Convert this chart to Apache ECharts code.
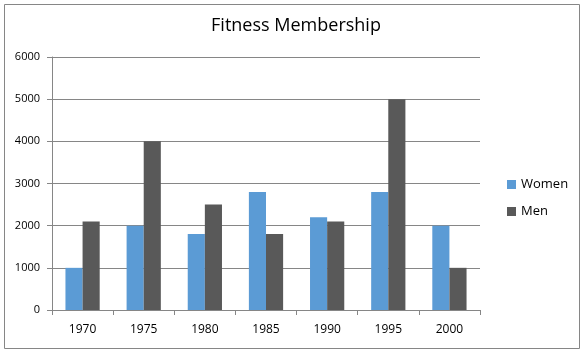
<!DOCTYPE html>
<html><head><meta charset="utf-8">
<script src="https://cdn.jsdelivr.net/npm/echarts@6/dist/echarts.min.js"></script>
<style>html,body{margin:0;padding:0;background:#fff}#c{width:586px;height:355px}</style>
</head><body><div id="c"></div>
<script>
const categories = ['1970','1975','1980','1985','1990','1995','2000'];
const women = [1000, 2000, 1800, 2800, 2200, 2800, 2000];
const men = [2100, 4000, 2500, 1800, 2100, 5000, 1000];
const yTicks = {min: 0, max: 6000, interval: 1000};

const chart = echarts.init(document.getElementById('c'), null, {renderer: 'canvas'});
const font = 'Open Sans, Noto Sans, sans-serif';
chart.setOption({
  animation: false,
  backgroundColor: '#fff',
  graphic: [{type: 'rect', shape: {x: 4.5, y: 4.5, width: 575, height: 344}, style: {fill: 'none', stroke: '#868686', lineWidth: 1}, silent: true}],
  title: {text: 'Fitness Membership', left: 291, textAlign: 'center', top: 12,
    textStyle: {fontFamily: font, fontSize: 18, fontWeight: 'normal', color: '#000'}},
  legend: {orient: 'vertical', left: 502, top: 173, itemWidth: 9, itemHeight: 9, itemGap: 14,
    icon: 'rect', textStyle: {fontFamily: font, fontSize: 13, color: '#000'},
    data: ['Women', 'Men']},
  grid: {left: 52, right: 106, top: 57, bottom: 45, containLabel: false},
  xAxis: {type: 'category', data: categories,
    axisLine: {lineStyle: {color: '#868686'}},
    axisTick: {show: true, length: 5, lineStyle: {color: '#868686'}},
    axisLabel: {fontFamily: font, fontSize: 12, color: '#000', margin: 14}},
  yAxis: {type: 'value', min: yTicks.min, max: yTicks.max, interval: yTicks.interval,
    axisLine: {show: true, lineStyle: {color: '#868686'}},
    axisTick: {show: true, length: 5, lineStyle: {color: '#868686'}},
    splitLine: {lineStyle: {color: '#868686'}},
    axisLabel: {fontFamily: font, fontSize: 11, color: '#000', margin: 12, formatter: v => String(v)}},
  series: [
    {name: 'Women', type: 'bar', data: women, barGap: '0%', barCategoryGap: '44%', itemStyle: {color: '#5B9BD5'}},
    {name: 'Men', type: 'bar', data: men, barGap: '0%', barCategoryGap: '44%', itemStyle: {color: '#595959'}}
  ]
});
</script></body></html>
